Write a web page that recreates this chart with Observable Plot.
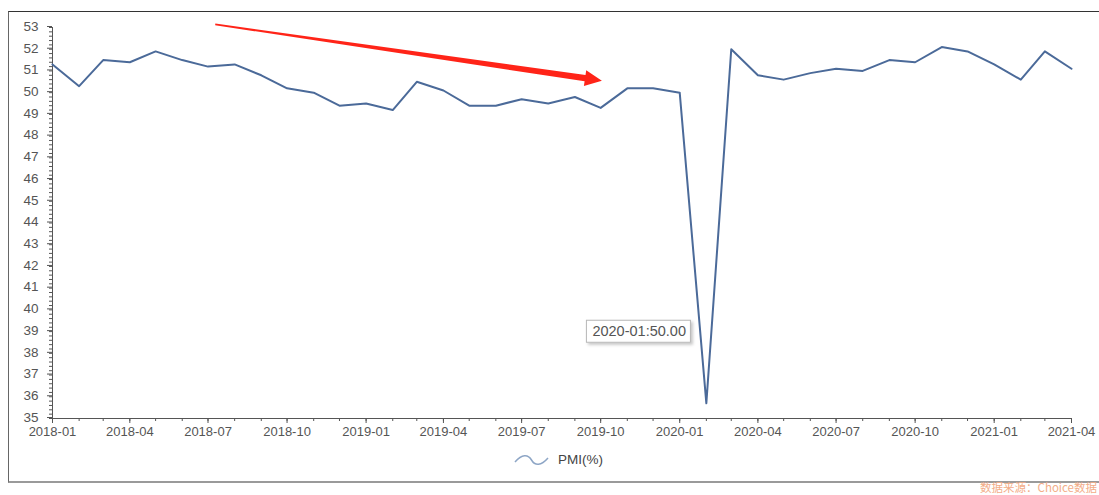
<!DOCTYPE html>
<html>
<head>
<meta charset="utf-8">
<script src="https://cdn.jsdelivr.net/npm/d3@7"></script>
<script src="https://cdn.jsdelivr.net/npm/@observablehq/plot@0.6"></script>
<style>
  html, body { margin: 0; padding: 0; background: #fff; }
  #page { position: relative; width: 1099px; height: 495px; overflow: hidden; font-family: "Liberation Sans", Arial, sans-serif; }
  #frame { position: absolute; left: 8px; top: 11px; width: 1100px; height: 469px;
           border-top: 1px solid #333; border-left: 1px solid #666; border-bottom: 2px solid #9a9a9a; }
  #chart { position: absolute; left: 0; top: 0; }
  #legend { position: absolute; top: 452px; left: 514px; display: flex; align-items: center; gap: 9px;
            font-size: 13.5px; color: #444; }
  #caption { position: absolute; right: 2px; top: 480px; font-size: 11.5px; color: #f3ad88; white-space: nowrap;
             font-family: "Noto Sans CJK SC", sans-serif; line-height: 14px; }
</style>
</head>
<body>
<div id="page">
  <div id="frame"></div>
  <div id="chart"></div>
  <div id="legend">
    <svg width="35" height="14"><path d="M1,9 C8,1 14,1 17.5,7 C21,13 27,13 34,5" fill="none" stroke="#8ea6c6" stroke-width="1.5"/></svg>
    <span id="legendLabel"></span>
  </div>
  <div id="caption"></div>
</div>
<script>
// ---- data ----
const months = [
  "2018-01","2018-02","2018-03","2018-04","2018-05","2018-06","2018-07","2018-08","2018-09","2018-10","2018-11","2018-12",
  "2019-01","2019-02","2019-03","2019-04","2019-05","2019-06","2019-07","2019-08","2019-09","2019-10","2019-11","2019-12",
  "2020-01","2020-02","2020-03","2020-04","2020-05","2020-06","2020-07","2020-08","2020-09","2020-10","2020-11","2020-12",
  "2021-01","2021-02","2021-03","2021-04"
];
const pmi = [
  51.3, 50.3, 51.5, 51.4, 51.9, 51.5, 51.2, 51.3, 50.8, 50.2, 50.0, 49.4,
  49.5, 49.2, 50.5, 50.1, 49.4, 49.4, 49.7, 49.5, 49.8, 49.3, 50.2, 50.2,
  50.0, 35.7, 52.0, 50.8, 50.6, 50.9, 51.1, 51.0, 51.5, 51.4, 52.1, 51.9,
  51.3, 50.6, 51.9, 51.1
];
const seriesName = "PMI(%)";
const yDomain = [35, 53];
const xTickLabels = ["2018-01","2018-04","2018-07","2018-10","2019-01","2019-04","2019-07","2019-10",
                     "2020-01","2020-04","2020-07","2020-10","2021-01","2021-04"];
const tooltipMonth = "2020-01";
const tooltipAnchor = ["2019-09-15", 39.5];   // top-left corner of the tooltip box (data space)
const arrowFrom = ["2018-07-10", 53.12];
const arrowTo = ["2019-10-03", 50.53];
const captionText = "数据来源：Choice数据";

// ---- build ----
const parse = d3.utcParse("%Y-%m");
const data = months.map((m, i) => ({date: parse(m), value: pmi[i]}));
const xMajor = xTickLabels.map(parse);
const xMinor = months.map(parse);
const yMajor = d3.range(yDomain[0], yDomain[1] + 1);
const yMinor = d3.range(yDomain[0] * 5, yDomain[1] * 5 + 1).map(v => v / 5);
const tipValue = pmi[months.indexOf(tooltipMonth)];
const tipText = `${tooltipMonth}:${tipValue.toFixed(2)}`;

function arrowMark(index, scales) {
  const x0 = scales.x(new Date(arrowFrom[0])), y0 = scales.y(arrowFrom[1]);
  const x1 = scales.x(new Date(arrowTo[0])), y1 = scales.y(arrowTo[1]);
  const dx = x1 - x0, dy = y1 - y0, L = Math.hypot(dx, dy);
  const ux = dx / L, uy = dy / L, nx = -uy, ny = ux;
  const headL = 17, headW = 8, w0 = 0.8, w1 = 3.2;
  const bx = x1 - ux * headL, by = y1 - uy * headL;
  const pts = [
    [x0 + nx * w0, y0 + ny * w0],
    [bx + nx * w1, by + ny * w1],
    [bx + nx * headW, by + ny * headW],
    [x1, y1],
    [bx - nx * headW, by - ny * headW],
    [bx - nx * w1, by - ny * w1],
    [x0 - nx * w0, y0 - ny * w0]
  ];
  const g = d3.create("svg:g");
  g.append("path").attr("d", "M" + pts.map(p => p.join(",")).join("L") + "Z").attr("fill", "#ff2418");
  return g.node();
}

function tooltipMark(index, scales) {
  const x = scales.x(new Date(tooltipAnchor[0])), y = scales.y(tooltipAnchor[1]);
  const g = d3.create("svg:g").attr("transform", `translate(${x},${y})`);
  const defs = g.append("defs");
  const f = defs.append("filter").attr("id", "tipShadow").attr("x", "-10%").attr("y", "-20%").attr("width", "130%").attr("height", "160%");
  f.append("feDropShadow").attr("dx", 2).attr("dy", 2).attr("stdDeviation", 1.5).attr("flood-color", "#000").attr("flood-opacity", 0.22);
  g.append("rect").attr("width", 104).attr("height", 22).attr("fill", "#fff").attr("stroke", "#b8b8b8")
    .attr("stroke-width", 1).attr("filter", "url(#tipShadow)");
  g.append("text").attr("x", 6).attr("y", 16).attr("font-size", 14.5).attr("fill", "#555")
    .attr("text-anchor", "start")
    .attr("font-family", "Liberation Sans, Arial, sans-serif").text(tipText);
  return g.node();
}

const chart = Plot.plot({
  width: 1099,
  height: 450,
  marginLeft: 52,
  marginRight: 28,
  marginTop: 27,
  marginBottom: 32,
  style: {fontFamily: "Liberation Sans, Arial, sans-serif", fontSize: "13px", color: "#555", background: "transparent", overflow: "visible"},
  x: {type: "utc", domain: [xMinor[0], xMinor[xMinor.length - 1]]},
  y: {domain: yDomain},
  marks: [
    Plot.axisY({ticks: yMinor, tickSize: 3, tickFormat: () => "", label: null, stroke: "#555"}),
    Plot.axisY({ticks: yMajor, tickSize: 5, tickPadding: 9, dy: -1, label: null, stroke: "#555", fill: "#555", fontSize: 13.5}),
    Plot.axisX({ticks: xMinor, tickSize: 3, tickFormat: () => "", label: null, stroke: "#555"}),
    Plot.axisX({ticks: xMajor, tickSize: 5, tickPadding: 3, tickFormat: d3.utcFormat("%Y-%m"), label: null, stroke: "#555", fill: "#555", fontSize: 13}),
    Plot.ruleX([xMinor[0]], {y1: yDomain[0], y2: yDomain[1], stroke: "#555"}),
    Plot.ruleY([yDomain[0]], {x1: xMinor[0], x2: xMinor[xMinor.length - 1], stroke: "#555"}),
    Plot.lineY(data, {x: "date", y: "value", stroke: "#4b6a99", strokeWidth: 2}),
    arrowMark,
    tooltipMark
  ]
});
document.getElementById("chart").appendChild(chart);
document.getElementById("legendLabel").textContent = seriesName;
document.getElementById("caption").textContent = captionText;
</script>
</body>
</html>
